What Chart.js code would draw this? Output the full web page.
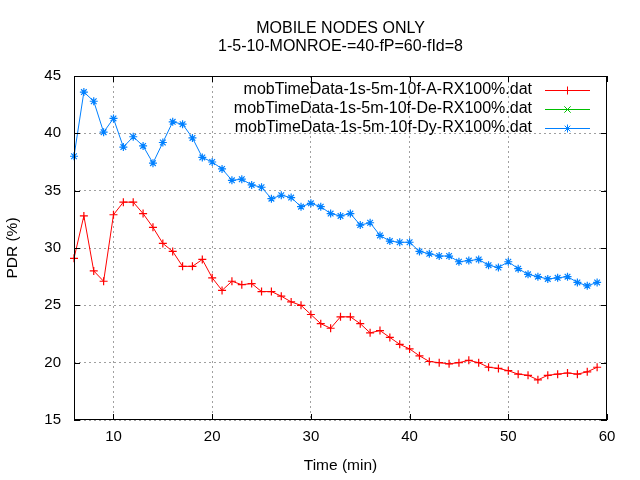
<!DOCTYPE html>
<html>
<head>
<meta charset="utf-8">
<script src="https://cdn.jsdelivr.net/npm/chart.js@4.4.1/dist/chart.umd.min.js"></script>
<style>
  html, body { margin: 0; padding: 0; background: #fff; }
  #wrap { width: 640px; height: 480px; }
</style>
</head>
<body>
<div id="wrap"><canvas id="pdrChart" width="640" height="480"></canvas></div>
<script>
// minutes on the x axis
const minutes = [6, 7, 8, 9, 10, 11, 12, 13, 14, 15, 16, 17, 18, 19, 20, 21, 22, 23, 24, 25,
  26, 27, 28, 29, 30, 31, 32, 33, 34, 35, 36, 37, 38, 39, 40, 41, 42, 43, 44, 45,
  46, 47, 48, 49, 50, 51, 52, 53, 54, 55, 56, 57, 58, 59];

// PDR values
const pdrA = [29.1, 32.8, 28.0, 27.1, 32.9, 34.0, 34.0, 33.0, 31.8, 30.4, 29.7, 28.4, 28.4, 29.0, 27.4, 26.3, 27.1, 26.8, 26.9, 26.2,
  26.2, 25.8, 25.3, 25.0, 24.2, 23.4, 23.0, 24.0, 24.0, 23.4, 22.6, 22.8, 22.2, 21.6, 21.2, 20.6, 20.1, 20.0, 19.9, 20.0,
  20.2, 20.0, 19.6, 19.5, 19.3, 19.0, 18.9, 18.5, 18.9, 19.0, 19.1, 19.0, 19.2, 19.6];
const pdrDe = []; // only shows up in the key
const pdrDy = [38.0, 43.6, 42.8, 40.1, 41.3, 38.8, 39.7, 38.9, 37.4, 39.2, 41.0, 40.8, 39.6, 37.9, 37.5, 36.9, 35.9, 36.0, 35.5, 35.3,
  34.3, 34.6, 34.4, 33.6, 33.9, 33.6, 33.0, 32.8, 33.0, 32.0, 32.2, 31.1, 30.6, 30.5, 30.5, 29.7, 29.5, 29.3, 29.3, 28.8,
  28.9, 29.0, 28.5, 28.3, 28.8, 28.2, 27.7, 27.5, 27.3, 27.4, 27.5, 27.0, 26.7, 27.0];

const seriesNames = [
  'mobTimeData-1s-5m-10f-A-RX100%.dat',
  'mobTimeData-1s-5m-10f-De-RX100%.dat',
  'mobTimeData-1s-5m-10f-Dy-RX100%.dat'
];
const titleLines = ['MOBILE NODES ONLY', '1-5-10-MONROE-=40-fP=60-fId=8'];
const xTicks = [10, 20, 30, 40, 50, 60];
const yTicks = [15, 20, 25, 30, 35, 40, 45];

const FONT = '"Liberation Sans", Arial, sans-serif';
const colors = ['#ff0000', '#00c000', '#0080ff'];
const markers = ['cross', 'crossRot', 'star'];

const toPoints = (ys) => ys.map((y, i) => ({ x: minutes[i], y: y }));

// draws a gnuplot style marker
function drawMarker(ctx, style, x, y, r) {
    ctx.beginPath();
    if (style === 'cross' || style === 'star') {
        ctx.moveTo(x - r, y); ctx.lineTo(x + r, y);
        ctx.moveTo(x, y - r); ctx.lineTo(x, y + r);
    }
    if (style === 'crossRot' || style === 'star') {
        const d = style === 'star' ? r * 0.707 : r * 0.8;
        ctx.moveTo(x - d, y - d); ctx.lineTo(x + d, y + d);
        ctx.moveTo(x - d, y + d); ctx.lineTo(x + d, y - d);
    }
    ctx.stroke();
}

// frame, inward ticks, title and key like gnuplot
const gnuplotDecor = {
    id: 'gnuplotDecor',
    afterDatasetsDraw(chart) {
        const { ctx, chartArea: a, scales } = chart;
        ctx.save();
        ctx.strokeStyle = '#000';
        ctx.lineWidth = 1;
        ctx.strokeRect(a.left + 0.5, a.top + 0.5, a.right - a.left - 1, a.bottom - a.top - 1);
        const tl = 6;
        ctx.beginPath();
        xTicks.forEach(v => {
            const px = Math.round(scales.x.getPixelForValue(v)) + 0.5;
            ctx.moveTo(px, a.bottom); ctx.lineTo(px, a.bottom - tl);
            ctx.moveTo(px, a.top); ctx.lineTo(px, a.top + tl);
        });
        yTicks.forEach(v => {
            const py = Math.round(scales.y.getPixelForValue(v)) + 0.5;
            ctx.moveTo(a.left, py); ctx.lineTo(a.left + tl, py);
            ctx.moveTo(a.right, py); ctx.lineTo(a.right - tl, py);
        });
        ctx.stroke();

        // title
        ctx.fillStyle = '#000';
        ctx.font = '16px ' + FONT;
        ctx.textAlign = 'center';
        ctx.textBaseline = 'middle';
        const cx = (a.left + a.right) / 2;
        ctx.fillText(titleLines[0], cx, 29);
        ctx.fillText(titleLines[1], cx, 47);

        // key
        ctx.textAlign = 'right';
        chart.data.datasets.forEach((ds, i) => {
            const y = 89.5 + i * 19;
            ctx.fillStyle = '#000';
            ctx.fillText(ds.label, 532, y);
            ctx.strokeStyle = colors[i];
            ctx.lineWidth = 1;
            ctx.beginPath();
            ctx.moveTo(545, Math.round(y) + 0.5);
            ctx.lineTo(590, Math.round(y) + 0.5);
            ctx.stroke();
            drawMarker(ctx, markers[i], 567.5, Math.round(y) + 0.5, 4);
        });
        ctx.restore();
    }
};

const ctx = document.getElementById('pdrChart').getContext('2d');

const chart = new Chart(ctx, {
    type: 'line',
    data: {
        datasets: [pdrA, pdrDe, pdrDy].map((vals, i) => ({
            label: seriesNames[i],
            data: toPoints(vals),
            borderColor: colors[i],
            backgroundColor: colors[i],
            borderWidth: 1,
            pointStyle: markers[i],
            pointRadius: 4,
            pointBorderWidth: 1.2,
            pointHoverRadius: 4,
            tension: 0,
            fill: false,
            clip: false
        }))
    },
    options: {
        responsive: false,
        animation: false,
        devicePixelRatio: 1,
        layout: { padding: { top: 76, right: 33, left: 0, bottom: 0 } },
        plugins: {
            legend: { display: false },
            title: { display: false },
            tooltip: { enabled: false }
        },
        scales: {
            x: {
                type: 'linear',
                min: 6,
                max: 60,
                afterFit: (s) => { s.height = 60; },
                afterBuildTicks: (s) => { s.ticks = xTicks.map(v => ({ value: v })); },
                grid: {
                    color: (c) => (c.tick && c.tick.value === 60 ? 'rgba(0,0,0,0)' : '#a0a0a0'),
                    lineWidth: 1,
                    drawTicks: false
                },
                border: { display: false, dash: [2, 3] },
                ticks: {
                    color: '#000',
                    padding: 8,
                    maxRotation: 0,
                    font: { family: FONT, size: 15 }
                },
                title: {
                    display: true,
                    text: 'Time (min)',
                    color: '#000',
                    padding: { top: 0, bottom: 5 },
                    font: { family: FONT, size: 15.5 }
                }
            },
            y: {
                min: 15,
                max: 45,
                afterFit: (s) => { s.width = 74; },
                afterBuildTicks: (s) => { s.ticks = yTicks.map(v => ({ value: v })); },
                grid: {
                    color: '#a0a0a0',
                    lineWidth: 1,
                    drawTicks: false
                },
                border: { display: false, dash: [2, 3] },
                ticks: {
                    color: '#000',
                    padding: 13,
                    font: { family: FONT, size: 15 }
                },
                title: {
                    display: true,
                    text: 'PDR (%)',
                    color: '#000',
                    padding: { top: 3, bottom: 0 },
                    font: { family: FONT, size: 15.5 }
                }
            }
        }
    },
    plugins: [gnuplotDecor]
});
</script>
</body>
</html>
